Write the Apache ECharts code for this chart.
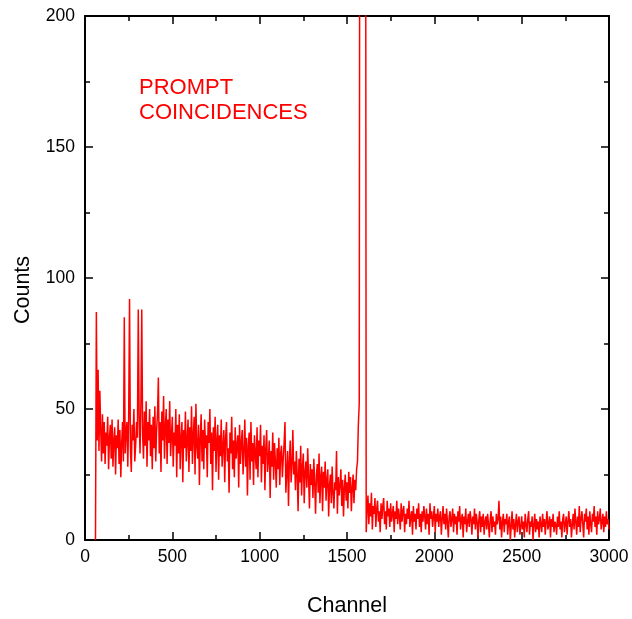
<!DOCTYPE html>
<html>
<head>
<meta charset="utf-8">
<script src="https://cdn.jsdelivr.net/npm/echarts@6/dist/echarts.min.js"></script>
<style>
html,body{margin:0;padding:0;background:#fff;}
#chart{width:632px;height:619px;}
</style>
</head>
<body>
<div id="chart"></div>
<script>
// Axis ticks
const xTicks = [0, 500, 1000, 1500, 2000, 2500, 3000];
const yTicks = [0, 50, 100, 150, 200];
const channelStep = 5;

// Segment 1: channels 60 .. 1555 (step 5)
const lowStart = 60;
const countsLow = [
  0, 87, 38, 65, 34, 57, 42, 30,
  48, 33, 45, 29, 41, 36, 47, 27, 39, 44, 31, 46, 28, 38, 43, 25, 40, 35, 46, 29,
  42, 24, 37, 45, 30, 85, 33, 41, 45, 28, 47, 92, 35, 26, 44, 38, 50, 30, 36, 45,
  39, 88, 47, 33, 52, 88, 40, 31, 49, 36, 53, 28, 45, 38, 50, 32, 44, 27, 47, 35,
  51, 30, 42, 48, 62, 33, 45, 26, 49, 38, 55, 31, 43, 50, 29, 46, 37, 53, 32, 40,
  47, 28, 41, 36, 50, 24, 44, 33, 48, 27, 39, 45, 22, 42, 35, 49, 30, 38, 46, 26,
  43, 34, 51, 29, 40, 47, 25, 52, 36, 31, 44, 21, 39, 48, 30, 42, 27, 46, 35, 40,
  24, 45, 37, 50, 29, 41, 19, 43, 34, 47, 26, 38, 44, 23, 40, 32, 46, 28, 36, 42,
  22, 39, 45, 30, 35, 18, 41, 33, 47, 27, 38, 24, 43, 31, 36, 40, 20, 44, 29, 37,
  42, 25, 34, 46, 28, 39, 17, 36, 41, 23, 45, 30, 37, 21, 40, 33, 27, 43, 24, 38,
  32, 44, 22, 36, 29, 40, 19, 35, 42, 26, 31, 38, 16, 34, 28, 41, 23, 37, 30, 20,
  35, 27, 39, 21, 33, 36, 24, 31, 37, 45, 18, 26, 34, 13, 30, 38, 22, 29, 42, 25,
  30, 19, 34, 25, 11, 31, 22, 36, 17, 28, 33, 14, 26, 30, 20, 35, 24, 12, 29, 21,
  27, 16, 31, 22, 10, 25, 29, 18, 33, 14, 24, 28, 11, 26, 20, 30, 15, 23, 27, 9,
  21, 25, 14, 28, 18, 12, 22, 19, 34, 10, 24, 17, 21, 27, 13, 23, 9, 20, 25, 15,
  22, 12, 26, 18, 24, 11, 20, 25, 14, 23, 19, 27
];

// Segment 2: prompt peak, channels 1560 .. 1610 (off scale at top)
const peakStart = 1560;
const countsPeak = [30, 44, 52, 400, 1500, 2200, 2000, 1500, 1000, 400, 3];

// Segment 3: channels 1615 .. 3000
const highStart = 1615;
const countsHigh = [
  12, 17, 6, 14, 9, 18, 4, 13, 10, 16, 5, 12, 15, 7, 11, 3, 14,
  8, 13, 16, 6, 11, 4, 15, 9, 12, 5, 14, 7, 10, 13, 3, 11, 8, 15, 6, 12,
  9, 4, 14, 7, 11, 13, 3, 10, 6, 12, 8, 15, 5, 9, 11, 2, 13, 7, 10, 4,
  12, 8, 14, 5, 10, 3, 11, 7, 13, 9, 4, 12, 6, 10, 2, 14, 8, 11, 5, 9,
  13, 3, 10, 7, 12, 5, 9, 11, 2, 8, 13, 6, 10, 4, 12, 7, 1, 9, 11, 5,
  8, 12, 3, 10, 6, 9, 2, 11, 7, 13, 4, 8, 10, 1, 9, 6, 12, 3, 7, 10,
  5, 11, 8, 2, 9, 6, 12, 4, 10, 7, 1, 8, 11, 3, 9, 5, 10, 2, 7, 9,
  4, 10, 6, 1, 8, 11, 3, 9, 5, 7, 2, 10, 6, 8, 15, 4, 9, 1, 7, 10,
  3, 8, 6, 10, 2, 7, 9, 0, 5, 11, 4, 8, 1, 6, 10, 3, 7, 9, 2, 5,
  9, 4, 7, 1, 10, 6, 3, 8, 11, 2, 7, 5, 9, 0, 6, 10, 3, 8, 4, 7,
  1, 9, 6, 3, 10, 5, 8, 2, 7, 11, 4, 6, 9, 1, 8, 5, 10, 3, 7, 6,
  2, 9, 5, 11, 4, 7, 1, 8, 10, 3, 6, 9, 2, 7, 11, 5, 8, 1, 6, 10,
  4, 12, 7, 2, 9, 5, 13, 3, 8, 11, 6, 1, 10, 7, 12, 4, 9, 2, 11, 6,
  3, 10, 7, 13, 5, 9, 2, 11, 6, 8, 12, 4, 7, 10, 3, 9, 5, 11, 6, 8, 4
];

function toPairs(start, arr) {
  return arr.map((v, i) => [start + i * channelStep, v]);
}
const seriesData = [].concat(
  toPairs(lowStart, countsLow),
  toPairs(peakStart, countsPeak),
  toPairs(highStart, countsHigh)
);

const FONT = '"Liberation Sans", Arial, sans-serif';
const plain = v => String(v);
const axisCommon = {
  axisLine: { show: true, onZero: false, lineStyle: { color: '#000', width: 2 } },
  axisTick: { show: true, inside: true, length: 8, lineStyle: { color: '#000', width: 1.5 } },
  minorTick: { show: true, splitNumber: 2, length: 5, lineStyle: { color: '#000', width: 1.5 } },
  splitLine: { show: false },
  minorSplitLine: { show: false }
};

const chart = echarts.init(document.getElementById('chart'), null, { renderer: 'canvas' });
chart.setOption({
  animation: false,
  backgroundColor: '#fff',
  grid: { left: 85, right: 23, top: 16, bottom: 79, containLabel: false, outerBoundsMode: 'none' },
  xAxis: [
    Object.assign({}, axisCommon, {
      type: 'value', min: xTicks[0], max: xTicks[xTicks.length - 1], interval: 500,
      position: 'bottom',
      axisLabel: { show: true, color: '#000', fontSize: 17.5, fontFamily: FONT, margin: 8, formatter: plain },
      name: 'Channel', nameLocation: 'middle', nameGap: 55,
      nameTextStyle: { color: '#000', fontSize: 21.5, fontFamily: FONT }
    }),
    Object.assign({}, axisCommon, {
      type: 'value', min: xTicks[0], max: xTicks[xTicks.length - 1], interval: 500,
      position: 'top', axisLabel: { show: false }
    })
  ],
  yAxis: [
    Object.assign({}, axisCommon, {
      type: 'value', min: yTicks[0], max: yTicks[yTicks.length - 1], interval: 50,
      position: 'left',
      axisLabel: { show: true, color: '#000', fontSize: 17.5, fontFamily: FONT, margin: 10, formatter: plain }
    }),
    Object.assign({}, axisCommon, {
      type: 'value', min: yTicks[0], max: yTicks[yTicks.length - 1], interval: 50,
      position: 'right', axisLabel: { show: false }
    })
  ],
  graphic: [{
    type: 'text', left: 139, top: 75,
    style: {
      text: 'PROMPT\nCOINCIDENCES', fill: '#ff0000',
      font: '22px ' + FONT, lineHeight: 25
    }
  }, {
    type: 'text', x: 23, y: 290, rotation: Math.PI / 2,
    style: {
      text: 'Counts', fill: '#000', font: '21.5px ' + FONT,
      textAlign: 'center', textVerticalAlign: 'middle'
    }
  }],
  series: [{
    type: 'line',
    xAxisIndex: 0, yAxisIndex: 0,
    data: seriesData,
    symbol: 'none',
    clip: true,
    sampling: null,
    lineStyle: { color: '#ff0000', width: 1.5 },
    itemStyle: { color: '#ff0000' }
  }]
});
</script>
</body>
</html>
